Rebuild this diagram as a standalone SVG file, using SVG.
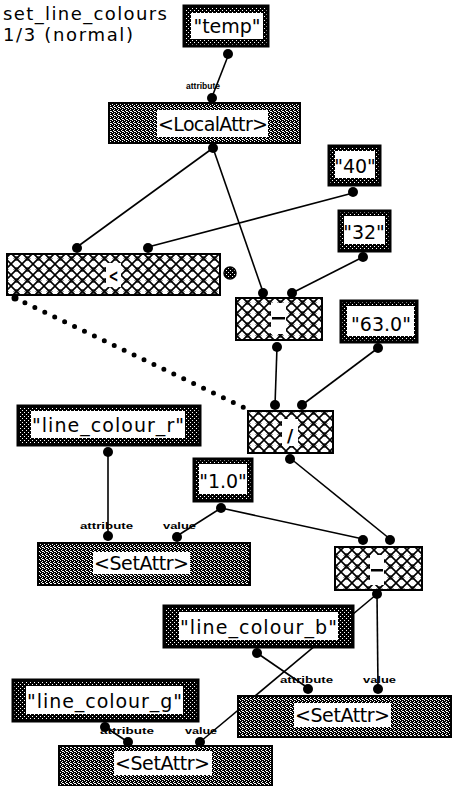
<svg xmlns="http://www.w3.org/2000/svg" width="452" height="786" viewBox="0 0 452 786">
<defs>
<pattern id="hatch" width="11" height="11" patternUnits="userSpaceOnUse">
<rect width="11" height="11" fill="#fff"/>
<path d="M0,0 L11,11 M11,0 L0,11" stroke="#000" stroke-width="1.6"/>
<path d="M5.5,3 L8,5.5 L5.5,8 L3,5.5 Z" fill="none" stroke="#000" stroke-width="0.8"/>
</pattern>
<pattern id="dark" width="4" height="4" patternUnits="userSpaceOnUse">
<rect width="4" height="4" fill="#000"/>
<rect x="0" y="0" width="1" height="1" fill="#fff"/>
<rect x="2" y="2" width="1" height="1" fill="#fff"/>
</pattern>
<pattern id="mid" width="4" height="4" patternUnits="userSpaceOnUse">
<rect width="4" height="4" fill="#000"/>
<rect x="0" y="0" width="1" height="1" fill="#fff"/>
<rect x="2" y="1" width="1" height="1" fill="#fff"/>
<rect x="1" y="2" width="1" height="1" fill="#fff"/>
<rect x="3" y="3" width="1" height="1" fill="#fff"/>
<rect x="2" y="3" width="1" height="1" fill="#fff"/>
</pattern>
</defs>
<style>
.const{fill:url(#dark);stroke:#000;stroke-width:3}
.op{fill:url(#hatch);stroke:#000;stroke-width:2}
.call{fill:url(#mid);stroke:#000;stroke-width:2}
.lab{fill:#fff}
.t{font-family:"DejaVu Sans","Liberation Sans",sans-serif;font-size:19px;fill:#000}
.opt{font-family:"DejaVu Sans","Liberation Sans",sans-serif;font-size:17px;font-weight:bold;fill:#000}
.title{font-family:"DejaVu Sans","Liberation Sans",sans-serif;font-size:18px;fill:#000}
.s{font-family:"Liberation Sans",sans-serif;font-size:9px;font-weight:bold;fill:#000}
.port{fill:#000}
.wire{stroke:#000;stroke-width:1.6;fill:none}
.ctrl{stroke:#000;stroke-width:5;fill:none;stroke-linecap:round;stroke-dasharray:0 11}
</style>
<rect width="452" height="786" fill="#fff"/>
<g id="title">
<text class="title" x="3" y="20" textLength="164">set_line_colours</text>
<text class="title" x="3" y="41" textLength="130">1/3 (normal)</text>
</g>
<g id="connectors">
<line class="wire" x1="228" y1="56" x2="212" y2="97"/>
<line class="wire" x1="213" y1="148" x2="77" y2="247"/>
<line class="wire" x1="213" y1="148" x2="263" y2="292"/>
<line class="wire" x1="353" y1="193" x2="148" y2="247"/>
<line class="wire" x1="363" y1="257" x2="292" y2="293"/>
<line class="ctrl" x1="15" y1="298" x2="245" y2="408"/>
<line class="wire" x1="277" y1="347" x2="275" y2="405"/>
<line class="wire" x1="378" y1="348" x2="302" y2="405"/>
<line class="wire" x1="108" y1="452" x2="108" y2="535"/>
<line class="wire" x1="221" y1="508" x2="177" y2="536"/>
<line class="wire" x1="221" y1="508" x2="363" y2="539"/>
<line class="wire" x1="290" y1="458" x2="390" y2="539"/>
<line class="wire" x1="377" y1="594" x2="378" y2="688"/>
<line class="wire" x1="377" y1="594" x2="200" y2="742"/>
<line class="wire" x1="257" y1="653" x2="308" y2="688"/>
<line class="wire" x1="105" y1="727" x2="128" y2="742"/>
</g>
<g id="n-temp">
<rect class="const" x="184" y="6" width="84" height="40"/>
<rect class="lab" x="191" y="13" width="72" height="26"/>
<text class="t" x="227" y="33" text-anchor="middle">"temp"</text>
<circle class="port" cx="228" cy="54" r="5"/>
</g>
<g id="n-localattr">
<rect class="call" x="109" y="103" width="191" height="40"/>
<rect class="lab" x="157" y="110" width="111" height="27"/>
<text class="t" x="158" y="131" textLength="110">&lt;LocalAttr&gt;</text>
<text class="s" x="186" y="89" textLength="34" lengthAdjust="spacingAndGlyphs">attribute</text>
<circle class="port" cx="212" cy="98" r="5"/>
<circle class="port" cx="213" cy="148" r="5"/>
</g>
<g id="n-40">
<rect class="const" x="329" y="146" width="51" height="39"/>
<rect class="lab" x="335" y="151" width="40" height="27"/>
<text class="t" x="355" y="173" text-anchor="middle">"40"</text>
<circle class="port" cx="353" cy="192" r="5"/>
</g>
<g id="n-32">
<rect class="const" x="339" y="211" width="51" height="40"/>
<rect class="lab" x="344" y="216" width="41" height="28"/>
<text class="t" x="364" y="239" text-anchor="middle">"32"</text>
<circle class="port" cx="363" cy="257" r="5"/>
</g>
<g id="n-lt">
<rect class="op" x="7" y="254" width="213" height="41"/>
<rect class="lab" x="106" y="263" width="15" height="24"/>
<text class="opt" x="113.5" y="282" text-anchor="middle" textLength="10" lengthAdjust="spacingAndGlyphs">&lt;</text>
<circle class="port" cx="77" cy="248" r="5"/>
<circle class="port" cx="148" cy="248" r="5"/>
<circle cx="230" cy="273" r="6" fill="url(#dark)" stroke="#000" stroke-width="1.5"/>
<circle class="port" cx="15" cy="298" r="3.5"/>
</g>
<g id="n-sub1">
<rect class="op" x="236" y="298" width="86" height="42"/>
<rect class="lab" x="271" y="303" width="15" height="31"/>
<rect x="272" y="317" width="13" height="2.5" fill="#000"/>
<circle class="port" cx="263" cy="293" r="5"/>
<circle class="port" cx="292" cy="293" r="5"/>
<circle class="port" cx="277" cy="347" r="5"/>
</g>
<g id="n-63">
<rect class="const" x="341" y="301" width="76" height="41"/>
<rect class="lab" x="347" y="306" width="67" height="30"/>
<text class="t" x="381" y="331" text-anchor="middle">"63.0"</text>
<circle class="port" cx="378" cy="348" r="5"/>
</g>
<g id="n-div">
<rect class="op" x="248" y="411" width="85" height="42"/>
<rect class="lab" x="282" y="419" width="16" height="27"/>
<text class="opt" x="290" y="442" text-anchor="middle">/</text>
<circle class="port" cx="275" cy="405" r="5"/>
<circle class="port" cx="302" cy="405" r="5"/>
<circle class="port" cx="290" cy="459" r="5"/>
</g>
<g id="n-lcr">
<rect class="const" x="18" y="406" width="182" height="39"/>
<rect class="lab" x="31" y="411" width="154" height="27"/>
<text class="t" x="32" y="432" textLength="152">"line_colour_r"</text>
<circle class="port" cx="108" cy="452" r="5"/>
</g>
<g id="n-one">
<rect class="const" x="194" y="459" width="58" height="42"/>
<rect class="lab" x="199" y="464" width="48" height="30"/>
<text class="t" x="223" y="488" text-anchor="middle">"1.0"</text>
<circle class="port" cx="221" cy="508" r="5"/>
</g>
<g id="n-setattr1">
<rect class="call" x="38" y="543" width="212" height="42"/>
<rect class="lab" x="93" y="552" width="97" height="22"/>
<text class="t" x="94" y="570" textLength="95">&lt;SetAttr&gt;</text>
<text class="s" x="80" y="529" textLength="53" lengthAdjust="spacingAndGlyphs">attribute</text>
<text class="s" x="163" y="529" textLength="33" lengthAdjust="spacingAndGlyphs">value</text>
<circle class="port" cx="108" cy="536" r="5"/>
<circle class="port" cx="177" cy="537" r="5"/>
</g>
<g id="n-sub2">
<rect class="op" x="335" y="547" width="87" height="43"/>
<rect class="lab" x="370" y="555" width="14" height="30"/>
<rect x="371" y="569" width="12" height="2.5" fill="#000"/>
<circle class="port" cx="363" cy="540" r="5"/>
<circle class="port" cx="390" cy="540" r="5"/>
<circle class="port" cx="377" cy="594" r="5"/>
</g>
<g id="n-lcb">
<rect class="const" x="164" y="606" width="189" height="41"/>
<rect class="lab" x="179" y="612" width="159" height="28"/>
<text class="t" x="180" y="634" textLength="157">"line_colour_b"</text>
<circle class="port" cx="257" cy="653" r="5"/>
</g>
<g id="n-setattr2">
<rect class="call" x="238" y="696" width="213" height="41"/>
<rect class="lab" x="294" y="703" width="97" height="24"/>
<text class="t" x="295" y="722" textLength="95">&lt;SetAttr&gt;</text>
<text class="s" x="280" y="683" textLength="53" lengthAdjust="spacingAndGlyphs">attribute</text>
<text class="s" x="363" y="683" textLength="33" lengthAdjust="spacingAndGlyphs">value</text>
<circle class="port" cx="308" cy="689" r="5"/>
<circle class="port" cx="378" cy="689" r="5"/>
</g>
<g id="n-lcg">
<rect class="const" x="13" y="680" width="185" height="41"/>
<rect class="lab" x="26" y="686" width="157" height="28"/>
<text class="t" x="27" y="708" textLength="155">"line_colour_g"</text>
<circle class="port" cx="105" cy="727" r="5"/>
</g>
<g id="n-setattr3">
<rect class="call" x="59" y="746" width="213" height="40"/>
<rect class="lab" x="114" y="751" width="98" height="24"/>
<text class="t" x="115" y="770" textLength="95">&lt;SetAttr&gt;</text>
<text class="s" x="100" y="734" textLength="54" lengthAdjust="spacingAndGlyphs">attribute</text>
<text class="s" x="185" y="734" textLength="32" lengthAdjust="spacingAndGlyphs">value</text>
<circle class="port" cx="128" cy="742" r="5"/>
<circle class="port" cx="200" cy="742" r="5"/>
</g>
</svg>
